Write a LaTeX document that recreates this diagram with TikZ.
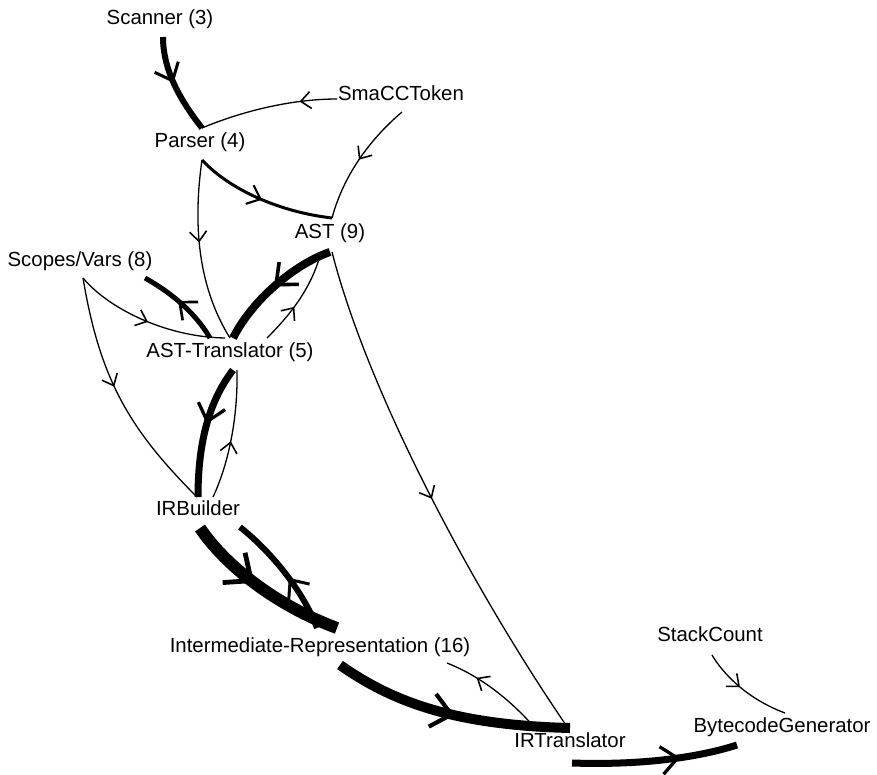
\documentclass[tikz,border=0pt]{standalone}
\usepackage{fontspec}
\setmainfont{Liberation Sans}
\usetikzlibrary{arrows.meta,decorations.markings}
\tikzset{
 lbl/.style={inner sep=0pt, text height=14.6pt, text depth=0pt, font=\fontsize{20.4pt}{24pt}\selectfont},
 wire/.style={draw, line width=#1},
 arr/.style={postaction={decorate}, decoration={markings, mark=at position #1 with {\arrow{Straight Barb[length=8.5pt 1.1, width=14.5pt 1.9, line width=1.2pt 0.3]}}}},
}
\begin{document}
\begin{tikzpicture}[x=1pt,y=-1pt]
\useasboundingbox (0,0) rectangle (877,774);
\node[lbl] (scan) at (160,17) {Scanner (3)};
\node[lbl] (smacc) at (401,93) {SmaCCToken};
\node[lbl] (pars) at (200,140) {Parser (4)};
\node[lbl] (ast) at (330,231) {AST (9)};
\node[lbl] (scope) at (80,259) {Scopes/Vars (8)};
\node[lbl] (astt) at (230,350) {AST-Translator (5)};
\node[lbl] (irb) at (198,508) {IRBuilder};
\node[lbl] (ir) at (320,645) {Intermediate-Representation (16)};
\node[lbl] (irt) at (570,740) {IRTranslator};
\node[lbl] (stack) at (710,634) {StackCount};
\node[lbl] (bcg) at (782,725) {BytecodeGenerator};

% Scanner -> Parser
\path[wire=6pt, arr=0.47] ([shift={(3,20)}]scan.center) .. controls (163,70) and (180,100) .. ([shift={(2,-12)}]pars.center);
% SmaCCToken -> Parser
\path[wire=1.3pt, arr=0.27] ([shift={(-64,6)}]smacc.center) .. controls (290,99) and (240,112) .. ([shift={(2,-12)}]pars.center);
% SmaCCToken -> AST
\path[wire=1.3pt, arr=0.5] ([shift={(1,19)}]smacc.center) .. controls (375,135) and (345,170) .. ([shift={(2,-13)}]ast.center);
% Parser -> AST
\path[wire=3pt, arr=0.5] ([shift={(2,20)}]pars.center) .. controls (230,190) and (280,212) .. ([shift={(2,-13)}]ast.center);
% Parser -> AST-Translator
\path[wire=1.3pt, arr=0.45] ([shift={(2,20)}]pars.center) .. controls (192,230) and (200,290) .. ([shift={(0,-12)}]astt.center);
% AST -> AST-Translator
\path[wire=8pt, arr=0.5] ([shift={(0,21)}]ast.center) .. controls (300,262) and (255,295) .. ([shift={(3,-12)}]astt.center);
% AST-Translator -> AST
\path[wire=1.3pt, arr=0.42] ([shift={(37,-12)}]astt.center) .. controls (290,315) and (310,290) .. ([shift={(-10,25)}]ast.center);
% AST-Translator -> Scopes/Vars
\path[wire=5pt, arr=0.55] ([shift={(-20,-12)}]astt.center) .. controls (195,312) and (170,292) .. ([shift={(65,19)}]scope.center);
% Scopes/Vars -> AST-Translator
\path[wire=1.3pt, arr=0.5] ([shift={(3,19)}]scope.center) .. controls (108,308) and (165,337) .. ([shift={(-5,-12)}]astt.center);
% Scopes/Vars -> IRBuilder
\path[wire=1.3pt, arr=0.45] ([shift={(3,19)}]scope.center) .. controls (100,380) and (130,430) .. ([shift={(-1,-11)}]irb.center);
% AST-Translator -> IRBuilder
\path[wire=7pt, arr=0.45] ([shift={(3,20)}]astt.center) .. controls (210,400) and (198,440) .. ([shift={(0,-11)}]irb.center);
% IRBuilder -> AST-Translator
\path[wire=1.3pt, arr=0.45] ([shift={(15,-11)}]irb.center) .. controls (228,465) and (238,420) .. ([shift={(7,20)}]astt.center);
% AST -> IRTranslator
\path[wire=1.3pt, arr=0.5] ([shift={(2,21)}]ast.center) .. controls (370,400) and (480,600) .. ([shift={(-2,-12)}]irt.center);
% IRBuilder -> IR
\path[wire=12pt, arr=0.45] ([shift={(2,20)}]irb.center) .. controls (225,565) and (275,605) .. ([shift={(17,-17)}]ir.center);
% IR -> IRBuilder
\path[wire=6pt, arr=0.45] ([shift={(-3,-17)}]ir.center) .. controls (305,595) and (275,555) .. ([shift={(42,19)}]irb.center);
% IR -> IRTranslator
\path[wire=10pt, arr=0.52] ([shift={(20,20)}]ir.center) .. controls (390,700) and (450,725) .. ([shift={(0,-12)}]irt.center);
% IRTranslator -> IR
\path[wire=1.3pt, arr=0.7] ([shift={(-35,-12)}]irt.center) .. controls (515,705) and (485,678) .. ([shift={(127,18)}]ir.center);
% IRTranslator -> BytecodeGenerator
\path[wire=7pt, arr=0.65] ([shift={(2,23)}]irt.center) .. controls (630,765) and (690,760) .. ([shift={(-45,20)}]bcg.center);
% StackCount -> BytecodeGenerator
\path[wire=1.3pt, arr=0.45] ([shift={(2,21)}]stack.center) .. controls (722,672) and (745,698) .. ([shift={(3,-12)}]bcg.center);
\end{tikzpicture}
\end{document}
